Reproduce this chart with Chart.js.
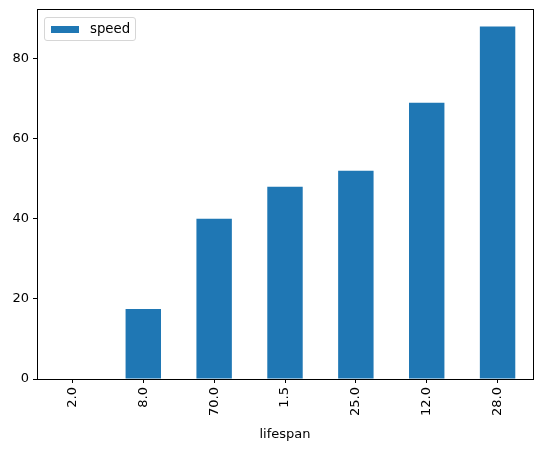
<!DOCTYPE html>
<html>
<head>
<meta charset="utf-8">
<script src="https://cdn.jsdelivr.net/npm/chart.js@4/dist/chart.umd.min.js"></script>
<style>
  html, body { margin: 0; padding: 0; background: #fff; }
  #wrap { position: relative; width: 543px; height: 449px; }
  #legend {
    position: absolute; left: 44px; top: 17px; width: 92px; height: 24px;
    border: 1px solid #d6d6d6; border-radius: 3px; background: rgba(255,255,255,0.8);
    font-family: 'DejaVu Sans', sans-serif; font-size: 13.3px; color: #000;
    box-sizing: border-box;
  }
  #legend .patch { position: absolute; left: 6px; top: 8px; width: 28px; height: 7px; background: #1f77b4; }
  #legend .lbl { position: absolute; left: 45px; top: 3px; }
</style>
</head>
<body>
<div id="wrap">
  <canvas id="c" width="543" height="449"></canvas>
  <div id="legend"><span class="patch"></span><span class="lbl">speed</span></div>
</div>
<script>
// ── Data ──────────────────────────────────────────────
const lifespan = ['2.0', '8.0', '70.0', '1.5', '25.0', '12.0', '28.0'];
const speed    = [0.1, 17.5, 40, 48, 52, 69, 88];
const yTicks   = [0, 20, 40, 60, 80];

const FONT = "'DejaVu Sans', sans-serif";

// full box around the axes, like matplotlib spines
const boxPlugin = {
  id: 'box',
  afterDraw(chart) {
    const { ctx, chartArea: a } = chart;
    ctx.save();
    ctx.strokeStyle = '#000';
    ctx.lineWidth = 1;
    ctx.strokeRect(Math.round(a.left) + 0.5, Math.round(a.top) + 0.5,
                   Math.round(a.right - a.left), Math.round(a.bottom - a.top));
    ctx.restore();
  }
};

new Chart(document.getElementById('c').getContext('2d'), {
  type: 'bar',
  data: {
    labels: lifespan,
    datasets: [{
      label: 'speed',
      data: speed,
      backgroundColor: '#1f77b4',
      borderWidth: 0,
      categoryPercentage: 1.0,
      barPercentage: 0.5,
    }]
  },
  plugins: [boxPlugin],
  options: {
    responsive: false,
    animation: false,
    layout: { padding: { left: 0, right: 10, top: 9, bottom: 7 } },
    plugins: {
      legend: { display: false },
      tooltip: { enabled: false },
    },
    scales: {
      x: {
        offset: true,
        grid: { display: true, drawOnChartArea: false, offset: false, tickLength: 4, color: '#000' },
        border: { display: true, color: '#000' },
        ticks: { color: '#000', font: { family: FONT, size: 13 }, maxRotation: 90, minRotation: 90, padding: 4 },
        title: { display: true, text: 'lifespan', color: '#000', font: { family: FONT, size: 13 }, padding: { top: 2, bottom: 0 } },
        afterFit: s => { s.height = 63; s.paddingLeft = 0; s.paddingRight = 0; },
      },
      y: {
        min: 0,
        max: 92.4,
        afterBuildTicks: s => { s.ticks = yTicks.map(v => ({ value: v })); },
        grid: { display: true, drawOnChartArea: false, tickLength: 4, color: '#000' },
        border: { display: true, color: '#000' },
        ticks: { color: '#000', font: { family: FONT, size: 13 }, padding: 4 },
        afterFit: s => { s.width = 37; s.paddingTop = 0; s.paddingBottom = 0; },
      },
    },
  },
});
</script>
</body>
</html>
